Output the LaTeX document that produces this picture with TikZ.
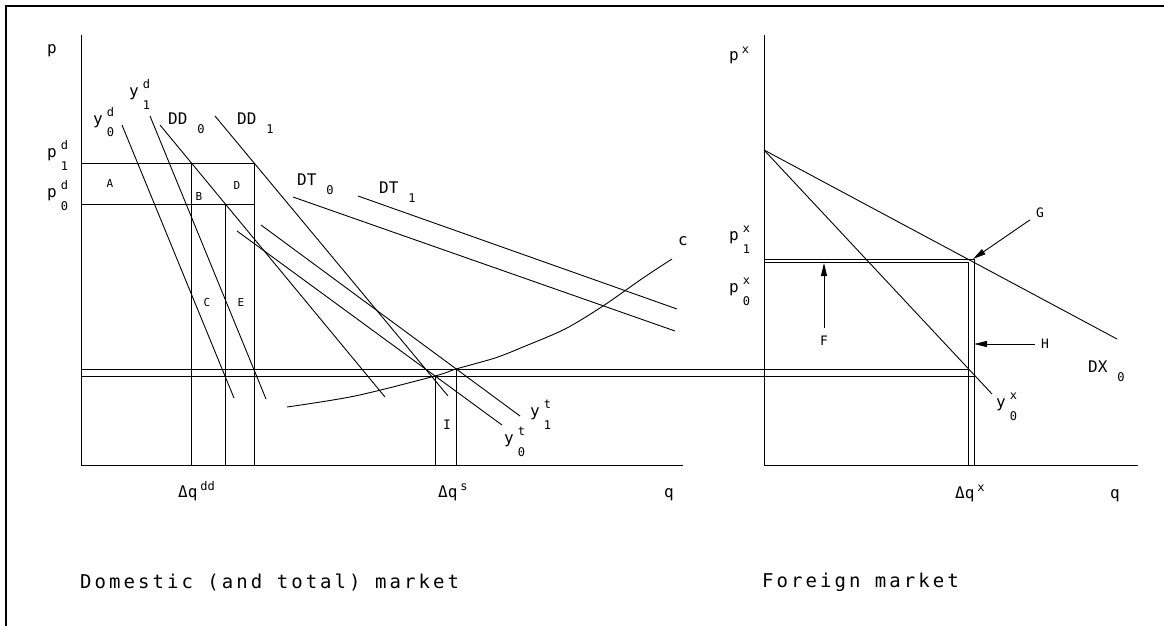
\documentclass[tikz,border=0pt]{standalone}
\usepackage{fontspec}
\setmainfont{DejaVu Sans Mono}
\usetikzlibrary{arrows.meta}
\newcommand{\ixfont}{\fontsize{12}{12}\selectfont}
\newcommand{\supsub}[3]{#1\hspace{4pt}\rlap{\raisebox{8pt}{\ixfont #2}}\raisebox{-13pt}{\ixfont #3}}
\newcommand{\subonly}[2]{#1\hspace{10pt}\raisebox{-9pt}{\ixfont #2}}
\newcommand{\suponly}[2]{#1\hspace{3pt}\raisebox{7pt}{\ixfont #2}}
\tikzset{
  ln/.style={line width=0.9pt},
  frame/.style={line width=2.5pt},
  lbl/.style={inner sep=0pt, anchor=base west, font=\fontsize{16}{18}\selectfont},
  tag/.style={inner sep=1pt, font=\fontsize{11}{12}\selectfont},
  bigtag/.style={inner sep=1pt, font=\fontsize{13}{14}\selectfont},
  caption/.style={inner sep=0pt, anchor=base west, font=\fontsize{19}{22}\selectfont\addfontfeatures{LetterSpace=16}},
  arr/.style={-{Triangle[length=13pt,width=6pt]}, line width=0.9pt}
}

\begin{document}
\begin{tikzpicture}[x=1pt,y=-1pt]
\useasboundingbox (0,0) rectangle (1164,626);
\draw[frame] (6,626) -- (6,6) -- (1164,6);

% domestic market
\coordinate (O) at (81,465);
\coordinate (ptop) at (81,35);
\coordinate (qend) at (683,465);
\draw[ln] (ptop) -- (O) -- (qend);
\coordinate (p1a) at (81,163);  \coordinate (p1b) at (254,163);
\coordinate (p0a) at (81,204);  \coordinate (p0b) at (254,204);
\draw[ln] (p1a) -- (p1b) -- (254,465);
\draw[ln] (p0a) -- (p0b);
\draw[ln] (191,163) -- (191,465);
\draw[ln] (225,204) -- (225,465);
\coordinate (hiA) at (81,369);  \coordinate (hiB) at (968,369);
\coordinate (loA) at (81,376);  \coordinate (loB) at (974,376);
\draw[ln] (hiA) -- (hiB);
\draw[ln] (loA) -- (loB);
\draw[ln] (435,376) -- (435,465);
\draw[ln] (456,369) -- (456,465);
\draw[ln] (122,125) -- (234,398);   % yd0
\draw[ln] (150,116) -- (266,399);   % yd1
\draw[ln] (160,125) -- (385,397);   % DD0
\draw[ln] (215,116) -- (448,396);   % DD1
\draw[ln] (237,231) -- (502,425);   % yt0
\draw[ln] (261,225) -- (520,416);   % yt1
\draw[ln] (293,197) -- (675,331);   % DT0
\draw[ln] (358,196) -- (677,309);   % DT1
\draw[ln] plot[smooth] coordinates {(287,407) (355,396) (435,376) (456,369)
  (495,358) (523,347) (565,329) (603,306) (643,278) (672,259)};

\node[lbl] (pL) at (47,54) {p};
\node[lbl] (pd1) at (47,157) {\supsub{p}{d}{1}};
\node[lbl] (pd0) at (47,197) {\supsub{p}{d}{0}};
\node[lbl] (yd0) at (93,124) {\supsub{y}{d}{0}};
\node[lbl] (yd1) at (129,96) {\supsub{y}{d}{1}};
\node[lbl] (DD0) at (168,124) {\subonly{DD}{0}};
\node[lbl] (DD1) at (237,124) {\subonly{DD}{1}};
\node[lbl] (DT0) at (297,185) {\subonly{DT}{0}};
\node[lbl] (DT1) at (379,193) {\subonly{DT}{1}};
\node[lbl] (cLab) at (678,245) {c};
\node[lbl] (yt1) at (530,416) {\supsub{y}{t}{1}};
\node[lbl] (yt0) at (504,443) {\supsub{y}{t}{0}};
\node[tag] (tA) at (110,183) {A};
\node[tag] (tB) at (199,196) {B};
\node[tag] (tD) at (237,185) {D};
\node[tag] (tC) at (207,302) {C};
\node[tag] (tE) at (241,302) {E};
\node[bigtag] (tI) at (447,425) {I};
\node[lbl] (dqdd) at (178,497) {\suponly{Δq}{dd}};
\node[lbl] (dqs) at (438,497) {\suponly{Δq}{s}};
\node[lbl] (qL) at (664,497) {q};
\node[caption] (capD) at (80,588) {Domestic (and total) market};

% foreign market
\coordinate (Ox) at (764,465);
\coordinate (pxtop) at (764,35);
\coordinate (qxend) at (1138,465);
\draw[ln] (pxtop) -- (Ox) -- (qxend);
\coordinate (kink) at (764,150);
\draw[ln] (kink) -- (1117,339);   % DX0
\draw[ln] (kink) -- (992,394);    % yx0
\draw[ln] (764,259) -- (974,259) -- (974,465);
\draw[ln] (764,262.5) -- (968,262.5) -- (968,465);

\node[lbl] (px) at (729,60) {\suponly{p}{x}};
\node[lbl] (px1) at (729,240) {\supsub{p}{x}{1}};
\node[lbl] (px0) at (729,292) {\supsub{p}{x}{0}};
\node[lbl] (yx0) at (996,407) {\supsub{y}{x}{0}};
\node[lbl] (DX0) at (1088,372) {\subonly{DX}{0}};
\node[lbl] (dqx) at (955,498) {\suponly{Δq}{x}};
\node[lbl] (qR) at (1110,498) {q};
\node[caption] (capF) at (762,587) {Foreign market};

\node[bigtag] (tG) at (1040,213) {G};
\node[bigtag] (tF) at (824,341) {F};
\node[bigtag] (tH) at (1045,344) {H};
\coordinate (ptG) at (973,259);
\coordinate (ptF) at (824,263);
\coordinate (ptH) at (974,344);
\draw[arr, shorten <=6pt] (tG) -- (ptG);
\draw[arr, shorten <=7pt] (tF) -- (ptF);
\draw[arr, shorten <=5pt] (tH) -- (ptH);
\end{tikzpicture}
\end{document}
